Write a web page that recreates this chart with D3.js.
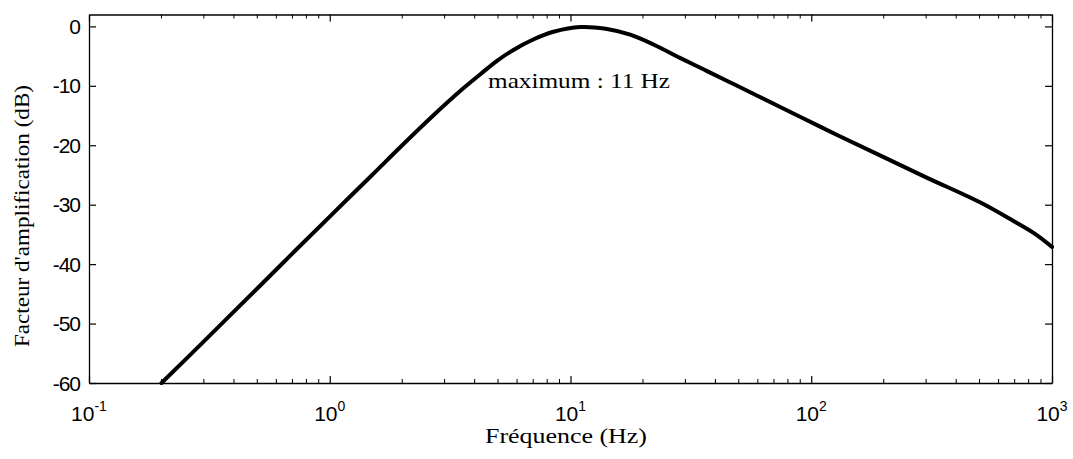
<!DOCTYPE html>
<html>
<head>
<meta charset="utf-8">
<script src="https://cdn.jsdelivr.net/npm/d3@7"></script>
<style>
  html, body { margin: 0; padding: 0; background: #fff; }
  svg { display: block; }
</style>
</head>
<body>
<svg id="chart" width="1073" height="459"></svg>
<script>
// frequency response
const freqs  = [0.2, 0.3, 0.5, 0.7, 1.0, 1.5, 2.0, 2.69, 3.5, 4.21, 4.95, 5.77, 7.0, 8.5, 11, 14, 17.7, 22, 28.5, 36, 45.9, 60, 89.8, 130, 193, 300, 502, 689, 850, 1000];
const gainDb = [-60, -53.0, -44.1, -38.2, -32.0, -25.0, -20.0, -15.0, -10.8, -8.1, -5.8, -4.0, -2.2, -0.9, -0.1, -0.4, -1.4, -3.0, -5.3, -7.3, -9.4, -11.7, -15.2, -18.4, -21.7, -25.4, -29.6, -32.7, -34.9, -37.1];

const yTicks = [0, -10, -20, -30, -40, -50, -60];
const xMajor = [0.1, 1, 10, 100, 1000];
const xExp   = ["-1", "0", "1", "2", "3"];

const xLabel = "Fréquence (Hz)";
const yLabel = "Facteur d'amplification (dB)";
const note   = "maximum : 11 Hz";

const margin = { top: 14.5, right: 21, bottom: 76, left: 89 };
const W = 1073, H = 459;

const svg = d3.select("#chart");
const x = d3.scaleLog().domain([0.1, 1000]).range([margin.left, W - margin.right]);
const y = d3.scaleLinear().domain([-60, 2]).range([H - margin.bottom, margin.top]);
const [x0, x1] = x.range();
const [yb, yt] = y.range();

const sans  = "'Liberation Sans', Arial, sans-serif";
const serif = "'Liberation Serif', 'Times New Roman', serif";

// minor ticks (2..9 per decade), top & bottom, inward
const minor = x.ticks().filter(v => !xMajor.some(m => Math.abs(m - v) / m < 1e-6));
const gMinor = svg.append("g").attr("stroke", "#000").attr("stroke-width", 1);
gMinor.selectAll("line.b").data(minor).enter().append("line")
  .attr("x1", d => x(d)).attr("x2", d => x(d))
  .attr("y1", yb).attr("y2", yb - 4);
gMinor.selectAll("line.t").data(minor).enter().append("line")
  .attr("x1", d => x(d)).attr("x2", d => x(d))
  .attr("y1", yt).attr("y2", yt + 4);

// major axes, ticks drawn inward, labels added by hand
function styleAxis(g) {
  g.selectAll("path").attr("stroke", "#000").attr("stroke-width", 1.3);
  g.selectAll("line").attr("stroke", "#000").attr("stroke-width", 1.2);
  g.selectAll("text").remove();
}
svg.append("g").attr("transform", `translate(0,${yb})`)
  .call(d3.axisBottom(x).tickValues(xMajor).tickSize(-7).tickSizeOuter(0)).call(styleAxis);
svg.append("g").attr("transform", `translate(0,${yt})`)
  .call(d3.axisTop(x).tickValues(xMajor).tickSize(-7).tickSizeOuter(0)).call(styleAxis);
svg.append("g").attr("transform", `translate(${x0},0)`)
  .call(d3.axisLeft(y).tickValues(yTicks).tickSize(-7).tickSizeOuter(0)).call(styleAxis);
svg.append("g").attr("transform", `translate(${x1},0)`)
  .call(d3.axisRight(y).tickValues(yTicks).tickSize(-7).tickSizeOuter(0)).call(styleAxis);

// y tick labels
svg.append("g").selectAll("text").data(yTicks).enter().append("text")
  .attr("x", x0 - 9).attr("y", d => y(d))
  .attr("text-anchor", "end").attr("dominant-baseline", "central")
  .attr("font-family", sans).attr("font-size", 21)
  .attr("letter-spacing", -1)
  .text(d => d);

// x tick labels 10^n
const xl = svg.append("g").selectAll("text").data(xMajor).enter().append("text")
  .attr("x", d => x(d)).attr("y", yb + 38)
  .attr("text-anchor", "middle")
  .attr("font-family", sans).attr("font-size", 21);
xl.append("tspan").text("10");
xl.append("tspan").attr("dy", -10).attr("font-size", 14).text((d, i) => xExp[i]);

// curve
const line = d3.line()
  .x((d, i) => x(freqs[i]))
  .y(d => y(d))
  .curve(d3.curveCatmullRom.alpha(0.5));
svg.append("path").datum(gainDb)
  .attr("d", line)
  .attr("fill", "none").attr("stroke", "#000")
  .attr("stroke-width", 4).attr("stroke-linejoin", "round").attr("stroke-linecap", "round");

// annotation
svg.append("text")
  .attr("x", 488).attr("y", 88)
  .attr("font-family", serif).attr("font-size", 21)
  .attr("textLength", 182).attr("lengthAdjust", "spacingAndGlyphs")
  .text(note);

// axis titles
svg.append("text")
  .attr("x", 566).attr("y", 443)
  .attr("text-anchor", "middle")
  .attr("font-family", serif).attr("font-size", 21)
  .attr("textLength", 162).attr("lengthAdjust", "spacingAndGlyphs")
  .text(xLabel);
svg.append("text")
  .attr("transform", `translate(29,216) rotate(-90)`)
  .attr("text-anchor", "middle")
  .attr("font-family", serif).attr("font-size", 21)
  .attr("textLength", 262).attr("lengthAdjust", "spacingAndGlyphs")
  .text(yLabel);
</script>
</body>
</html>
